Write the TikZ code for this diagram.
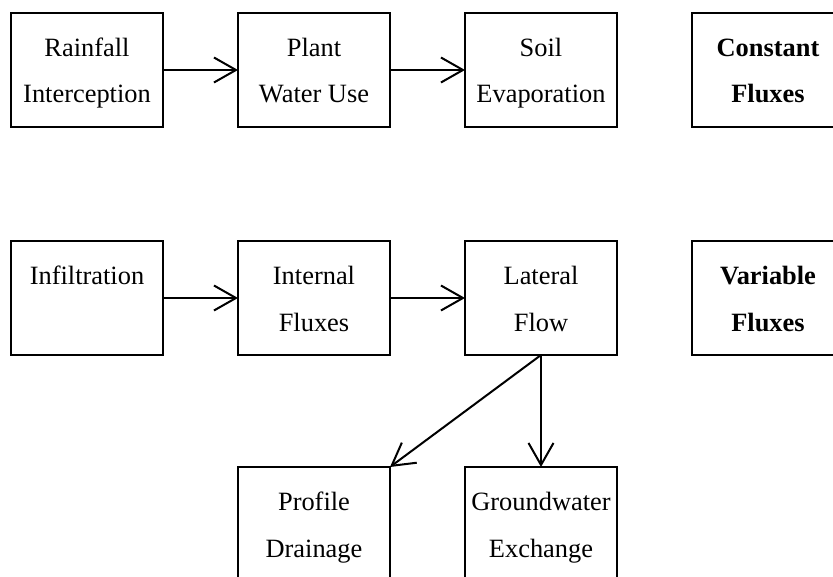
\documentclass[tikz,border=0pt]{standalone}
\usepackage{fontspec}
\setmainfont{Liberation Serif}
\usetikzlibrary{arrows.meta}

\begin{document}
\begin{tikzpicture}[
  x=1bp, y=-1bp,
  flux/.style={
    rectangle,
    fill=white,
    line width=2bp,
    draw=black,
    minimum height=114bp, minimum width=152bp,
    inner sep=0pt,
    outer sep=0pt,
    align=center,
    text height=71bp, text depth=5bp,
    font=\fontsize{26.5}{46.5}\selectfont
  },
  flux group/.style={
    flux,
    font=\fontsize{26.5}{46.5}\selectfont\bfseries
  },
  flow/.style={
    -{Straight Barb[length=22bp,width=25bp]},
    line width=2bp
  }
  ]
\clip (0,0) rectangle (833,577);
% Constant fluxes
\node [flux] (rainfall interception) at (87,70) {Rainfall\\Interception};
\node [flux] (plant water use) at (314,70) {Plant\\Water Use};
\node [flux] (soil evaporation) at (541,70) {Soil\\Evaporation};
\node [flux group] (constant fluxes) at (768,70) {Constant\\Fluxes};
\draw [flow] (rainfall interception) -- (plant water use);
\draw [flow] (plant water use) -- (soil evaporation);
% Variable fluxes
\node [flux] (infiltration) at (87,298) {Infiltration\\ \mbox{}};
\node [flux] (internal fluxes) at (314,298) {Internal\\Fluxes};
\node [flux] (lateral flow) at (541,298) {Lateral\\Flow};
\node [flux group] (variable fluxes) at (768,298) {Variable\\Fluxes};
\draw [flow] (infiltration) -- (internal fluxes);
\draw [flow] (internal fluxes) -- (lateral flow);
% Drainage
\node [flux] (profile drainage) at (314,524) {Profile\\Drainage};
\node [flux] (groundwater exchange) at (541,524) {Groundwater\\Exchange};
\draw [flow] (lateral flow.south) -- (profile drainage.north east);
\draw [flow] (lateral flow.south) -- (groundwater exchange.north);
\end{tikzpicture}
\end{document}
